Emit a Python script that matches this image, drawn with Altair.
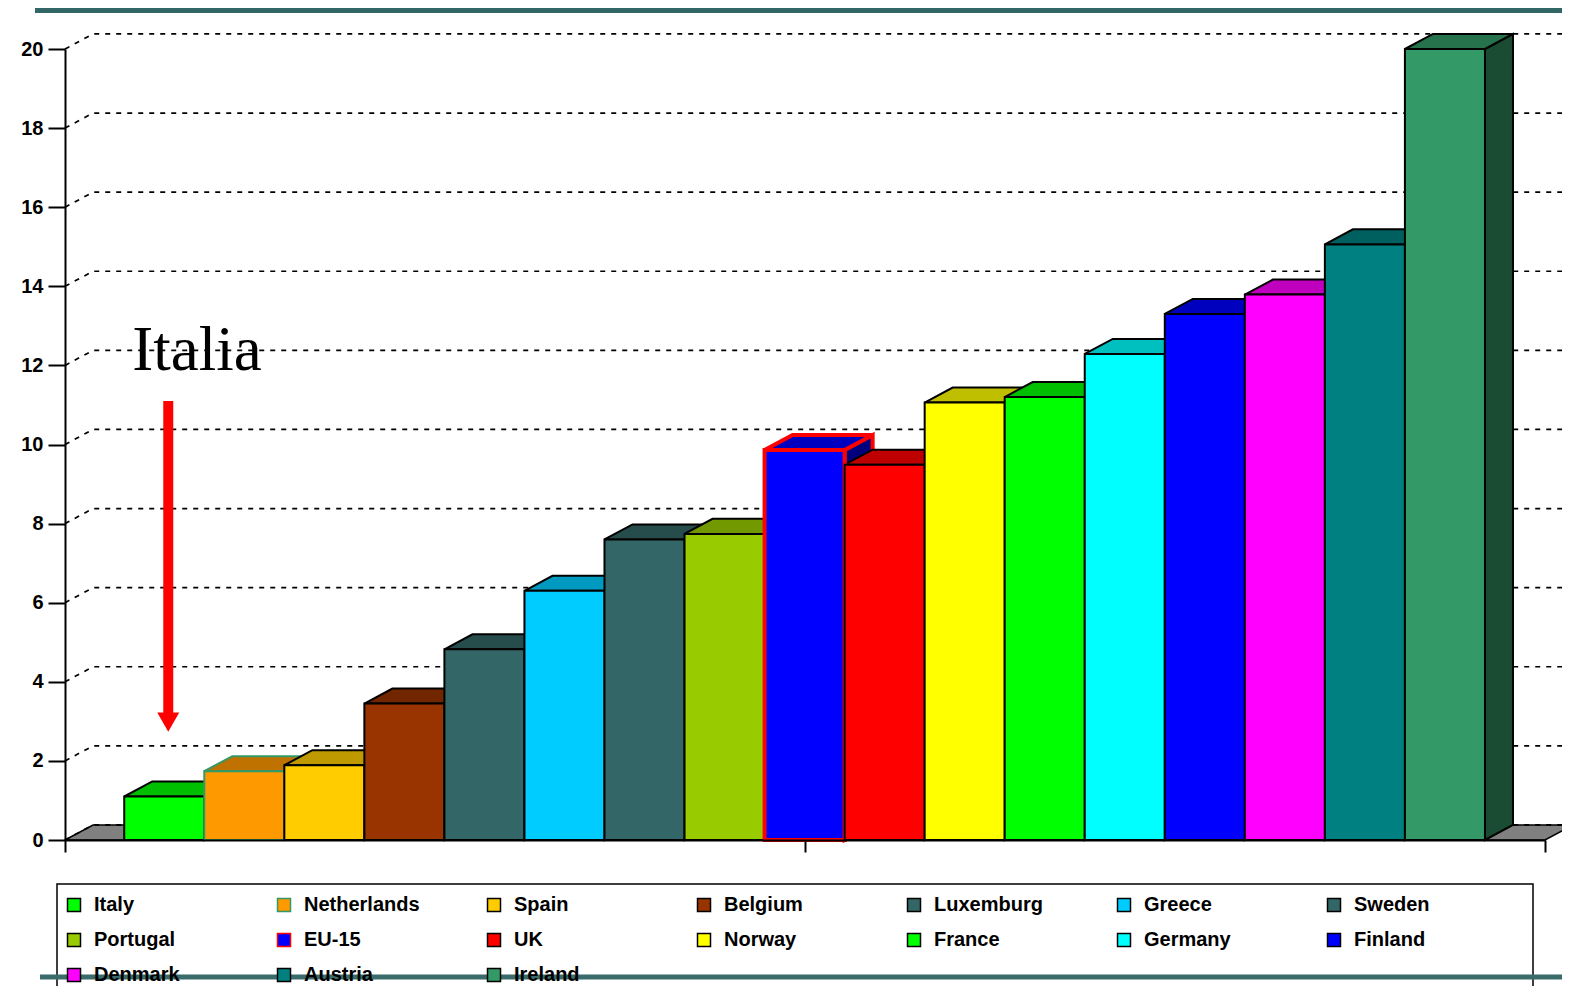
import altair as alt
import pandas as pd

# ---------------- data ----------------
countries = ["Italy", "Netherlands", "Spain", "Belgium", "Luxemburg", "Greece", "Sweden",
             "Portugal", "EU-15", "UK", "Norway", "France", "Germany", "Finland",
             "Denmark", "Austria", "Ireland"]
values = [1.1, 1.74, 1.89, 3.45, 4.82, 6.3, 7.6, 7.74, 9.86, 9.49, 11.06, 11.2,
          12.29, 13.3, 13.79, 15.06, 20.0]
front_colors = ["#00FF00", "#FF9900", "#FFCC00", "#993300", "#336666", "#00CCFF", "#336666",
                "#99CC00", "#0000FF", "#FF0000", "#FFFF00", "#00FF00", "#00FFFF", "#0000FF",
                "#FF00FF", "#008080", "#339966"]
outline_colors = ["#000000", "#339966", "#000000", "#000000", "#000000", "#000000", "#000000",
                  "#000000", "#FF0000", "#000000", "#000000", "#000000", "#000000", "#000000",
                  "#000000", "#000000", "#000000"]
y_ticks = [0, 2, 4, 6, 8, 10, 12, 14, 16, 18, 20]
annotation_text = "Italia"
annotation_target = "Italy"

# ---------------- layout constants ----------------
W, H = 1480, 791
XMIN, XMAX = -0.74, 17.75
D, E = 0.35, 0.38          # 3-D depth offsets (x in bar units, y in value units)
XRIGHT = XMAX + D + 0.2


def shade(hexc, f):
    r, g, b = (int(hexc[i:i + 2], 16) for i in (1, 3, 5))
    return "#{:02X}{:02X}{:02X}".format(int(r * f), int(g * f), int(b * f))


sw = [4 if c == "EU-15" else 2 for c in countries]

bars = pd.DataFrame({
    "country": countries,
    "value": values,
    "x0": [float(i) for i in range(len(countries))],
    "x1": [float(i + 1) for i in range(len(countries))],
    "zero": 0.0,
    "sw": sw,
})

top_rows, side_rows = [], []
for i, (c, v) in enumerate(zip(countries, values)):
    key = f"{i:02d}"
    x0, x1 = float(i), float(i + 1)
    tc = shade(front_colors[i], 0.75)
    sc = shade(front_colors[i], 0.5)
    st = outline_colors[i]
    for (x, y, y2) in [(x0, v, v), (x0 + D, v + E, v), (x1, v + E, v), (x1 + D, v + E, v + E)]:
        top_rows.append({"key": key, "x": x, "y": y, "y2": y2, "fillc": tc, "strokec": st, "sw": sw[i]})
    for (x, y, y2) in [(x1, v, 0.0), (x1 + D, v + E, E)]:
        side_rows.append({"key": key, "x": x, "y": y, "y2": y2, "fillc": sc, "strokec": st, "sw": sw[i]})
tops = pd.DataFrame(top_rows)
sides = pd.DataFrame(side_rows)

floor = pd.DataFrame({
    "x": [XMIN, XMIN + D, XMAX, XMAX + D],
    "y": [0.0, E, E, E],
    "y2": [0.0, 0.0, 0.0, E],
})

grid_rows = []
for t in y_ticks:
    for (x, y) in [(XMIN, t), (XMIN + D, t + E), (XRIGHT, t + E)]:
        grid_rows.append({"tick": t, "x": x, "y": y})
grid = pd.DataFrame(grid_rows)

ti = countries.index(annotation_target)
tv = values[ti]
arrow = pd.DataFrame({"x": [ti + 0.55], "ytop": [11.1], "ybot": [tv + 2.0], "yhead": [tv + 1.88]})
label = pd.DataFrame({"x": [ti + 0.91], "y": [11.88], "text": [annotation_text]})

# ---------------- scales ----------------
xs = alt.Scale(domain=[XMIN, XMAX], nice=False, zero=False)
ys = alt.Scale(domain=[0, 20], nice=False, zero=False)

x_axis = alt.Axis(values=[XMIN, (XMIN + XMAX) / 2, XMAX], labels=False, title=None, grid=False,
                  tickSize=12, tickWidth=2, tickColor="black", domainColor="black",
                  domainWidth=2, zindex=1)
y_axis = alt.Axis(values=y_ticks, title=None, grid=False, tickSize=17, tickWidth=2,
                  tickColor="black", domainColor="black", domainWidth=2, labelFontSize=20,
                  labelFont="Liberation Sans", labelFontWeight="bold", labelColor="black",
                  labelPadding=5, zindex=1)

floor_layer = alt.Chart(floor).mark_area(orient="vertical", fill="#808080", stroke="black",
                                         strokeWidth=1.5).encode(
    x=alt.X("x:Q", scale=xs, axis=x_axis),
    y=alt.Y("y:Q", scale=ys, axis=y_axis),
    y2="y2:Q",
)

grid_layer = alt.Chart(grid).mark_line(color="black", strokeWidth=1.7, strokeDash=[5, 6]).encode(
    x="x:Q", y="y:Q", detail="tick:N",
)

side_layer = alt.Chart(sides).mark_area(orient="vertical").encode(
    x="x:Q", y="y:Q", y2="y2:Q", detail="key:N",
    fill=alt.Fill("fillc:N", scale=None),
    stroke=alt.Stroke("strokec:N", scale=None),
    strokeWidth=alt.StrokeWidth("sw:Q", scale=None),
)

top_layer = alt.Chart(tops).mark_area(orient="vertical").encode(
    x="x:Q", y="y:Q", y2="y2:Q", detail="key:N",
    fill=alt.Fill("fillc:N", scale=None),
    stroke=alt.Stroke("strokec:N", scale=None),
    strokeWidth=alt.StrokeWidth("sw:Q", scale=None),
)

legend = alt.Legend(title=None, orient="none", legendX=-11, legendY=836, columns=7,
                    direction="horizontal",
                    symbolType="square", symbolSize=169, symbolStrokeWidth=1.5,
                    labelFont="Liberation Sans", labelFontWeight="bold", labelFontSize=20,
                    labelColor="black", labelOffset=10, padding=10,
                    columnPadding=64, rowPadding=15, gridAlign="all", labelLimit=300)

front_layer = alt.Chart(bars).mark_rect().encode(
    x="x0:Q", x2="x1:Q", y="value:Q", y2="zero:Q",
    fill=alt.Fill("country:N", scale=alt.Scale(domain=countries, range=front_colors),
                  legend=legend, sort=countries),
    stroke=alt.Stroke("country:N", scale=alt.Scale(domain=countries, range=outline_colors),
                      legend=legend, sort=countries),
    strokeWidth=alt.StrokeWidth("sw:Q", scale=None),
)

shaft = alt.Chart(arrow).mark_rule(color="#FF0000", strokeWidth=10, strokeCap="butt").encode(
    x="x:Q", y="ytop:Q", y2="ybot:Q")
head = alt.Chart(arrow).mark_point(shape="triangle-down", filled=True, size=484, color="#FF0000",
                                   opacity=1).encode(x="x:Q", y="yhead:Q")
text = alt.Chart(label).mark_text(font="Liberation Serif", fontSize=63, color="black",
                                  align="center", baseline="alphabetic").encode(
    x="x:Q", y="y:Q", text="text:N")

one = pd.DataFrame({"a": [0]})
legend_frame = alt.Chart(one).mark_rect(fill="transparent", stroke="black", strokeWidth=1.5).encode(
    x=alt.value(-8), x2=alt.value(1468), y=alt.value(835), y2=alt.value(960))
top_strip = alt.Chart(one).mark_rule(color="#336666", strokeWidth=7).encode(
    x=alt.value(-30), x2=alt.value(1510), y=alt.value(-39.5))
bottom_strip = alt.Chart(one).mark_rule(color="#3A6B6B", strokeWidth=5).encode(
    x=alt.value(-25), x2=alt.value(1510), y=alt.value(928))

chart = alt.layer(
    floor_layer, grid_layer, side_layer, top_layer, front_layer, shaft, head, text,
    legend_frame, top_strip, bottom_strip,
).properties(
    width=W, height=H, autosize="none", background="white",
    padding={"left": 57, "top": 41, "right": 17, "bottom": 146},
).configure_view(stroke=None, strokeWidth=0)

chart.save("out.html", embed_options={"renderer": "svg", "actions": False})
